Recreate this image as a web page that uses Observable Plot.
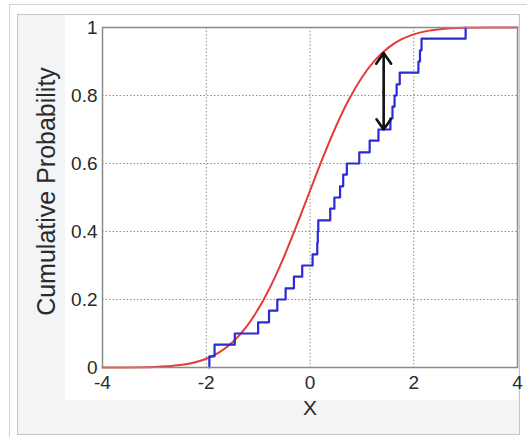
<!DOCTYPE html>
<html>
<head>
<meta charset="utf-8">
<script src="https://cdn.jsdelivr.net/npm/d3@7"></script>
<script src="https://cdn.jsdelivr.net/npm/@observablehq/plot@0.6"></script>
<style>
  html, body { margin: 0; padding: 0; background: #ffffff; }
  #wrap { position: relative; width: 527px; height: 437px; overflow: hidden; font-family: "Liberation Sans", Arial, sans-serif; }
  .outer { position: absolute; left: 9px; top: 4px; width: 530px; height: 450px; border: 1px solid #d2d2d2; }
  .inner { position: absolute; left: 17px; top: 14px; width: 501px; height: 419px; border: 1px solid #c6c6c6; background: #f3f4f6; }
  .axesbg { position: absolute; left: 65px; top: 15px; width: 453px; height: 385px; background: #ffffff; }
  #chart { position: absolute; left: 0; top: 0; }
</style>
</head>
<body>
<div id="wrap">
  <div class="outer"></div>
  <div class="inner"></div>
  <div class="axesbg"></div>
  <div id="chart"></div>
</div>
<script>
const ecdfX = [-1.94, -1.84, -1.45, -1.00, -0.79, -0.63, -0.47, -0.31, -0.15, 0.05,
               0.14, 0.15, 0.16, 0.39, 0.47, 0.58, 0.64, 0.71, 0.95, 1.15,
               1.32, 1.55, 1.59, 1.63, 1.67, 1.73, 2.09, 2.12, 2.15, 3.00];
const ecdfY = [0.033, 0.067, 0.100, 0.133, 0.167, 0.200, 0.233, 0.267, 0.300, 0.333,
               0.367, 0.400, 0.433, 0.467, 0.500, 0.533, 0.567, 0.600, 0.633, 0.667,
               0.700, 0.733, 0.767, 0.800, 0.833, 0.867, 0.900, 0.933, 0.967, 1.000];

// Theoretical (normal) CDF
const cdfX = [-4, -3.5, -3, -2.75, -2.5, -2.25, -2, -1.75, -1.5, -1.25, -1, -0.75, -0.5, -0.25,
              0, 0.25, 0.5, 0.75, 1, 1.25, 1.5, 1.75, 2, 2.25, 2.5, 3, 3.5, 4];
const cdfY = [0, 0.0003, 0.0016, 0.0035, 0.0071, 0.0139, 0.0256, 0.0446, 0.0735, 0.1151, 0.1711, 0.2420, 0.3264, 0.4207,
              0.5199, 0.6179, 0.7088, 0.7881, 0.8531, 0.9032, 0.9394, 0.9641, 0.9798, 0.9893, 0.9946, 0.9989, 0.9999, 1];

// Double-headed arrow marking the maximum distance
const arrowX = [1.42];
const arrowTop = [0.925];
const arrowBottom = [0.70];
const arrowMid = [0.81];

// Axes
const xTicks = [-4, -2, 0, 2, 4];
const xTickLabels = ["-4", "-2", "0", "2", "4"];
const yTicks = [0, 0.2, 0.4, 0.6, 0.8, 1];
const yTickLabels = ["0", "0.2", "0.4", "0.6", "0.8", "1"];
const xLabel = ["X"];
const yLabel = ["Cumulative Probability"];

const blue = [{x: ecdfX[0], y: 0}].concat(ecdfX.map((x, i) => ({x, y: ecdfY[i]})));
const red = cdfX.map((x, i) => ({x, y: cdfY[i]}));
const arrows = [];
arrowX.forEach((x, i) => {
  arrows.push({x, y1: arrowMid[i], y2: arrowTop[i]});
  arrows.push({x, y1: arrowMid[i], y2: arrowBottom[i]});
});

const chart = Plot.plot({
  width: 527,
  height: 437,
  marginLeft: 102,
  marginRight: 10,
  marginTop: 27,
  marginBottom: 70,
  style: {background: "transparent", fontFamily: "'Liberation Sans', Arial, sans-serif", color: "#2a2a2a"},
  x: {domain: [-4, 4]},
  y: {domain: [0, 1]},
  marks: [
    Plot.gridX(xTicks, {stroke: "#8f8f8f", strokeOpacity: 1, strokeDasharray: "1.5,2"}),
    Plot.gridY(yTicks, {stroke: "#8f8f8f", strokeOpacity: 1, strokeDasharray: "1.5,2"}),
    Plot.line(red, {x: "x", y: "y", stroke: "#e53b3b", strokeWidth: 2, curve: "monotone-x"}),
    Plot.line(blue, {x: "x", y: "y", stroke: "#2a2ad6", strokeWidth: 2.2, curve: "step-after"}),
    Plot.arrow(arrows, {x1: "x", x2: "x", y1: "y1", y2: "y2", stroke: "#111", strokeWidth: 2.6, headLength: 11, headAngle: 70}),
    Plot.frame({stroke: "#8a8a8a", strokeWidth: 1.5}),
    Plot.axisX(xTicks, {tickSize: 0, tickPadding: 8, fontSize: 19, fill: "#2a2a2a", label: null,
      tickFormat: d => xTickLabels[xTicks.indexOf(d)]}),
    Plot.axisY(yTicks, {tickSize: 0, tickPadding: 5, fontSize: 19, fill: "#2a2a2a", label: null,
      tickFormat: d => yTickLabels[yTicks.indexOf(d)]}),
    Plot.text(xLabel, {frameAnchor: "bottom", text: d => d, dy: 41, lineAnchor: "middle", textAnchor: "middle", fontSize: 21, fill: "#2a2a2a"}),
    Plot.text(yLabel, {frameAnchor: "left", text: d => d, rotate: -90, dx: -56, dy: -6, lineAnchor: "middle", textAnchor: "middle", fontSize: 25, fill: "#2a2a2a"})
  ]
});
document.getElementById("chart").appendChild(chart);
</script>
</body>
</html>
